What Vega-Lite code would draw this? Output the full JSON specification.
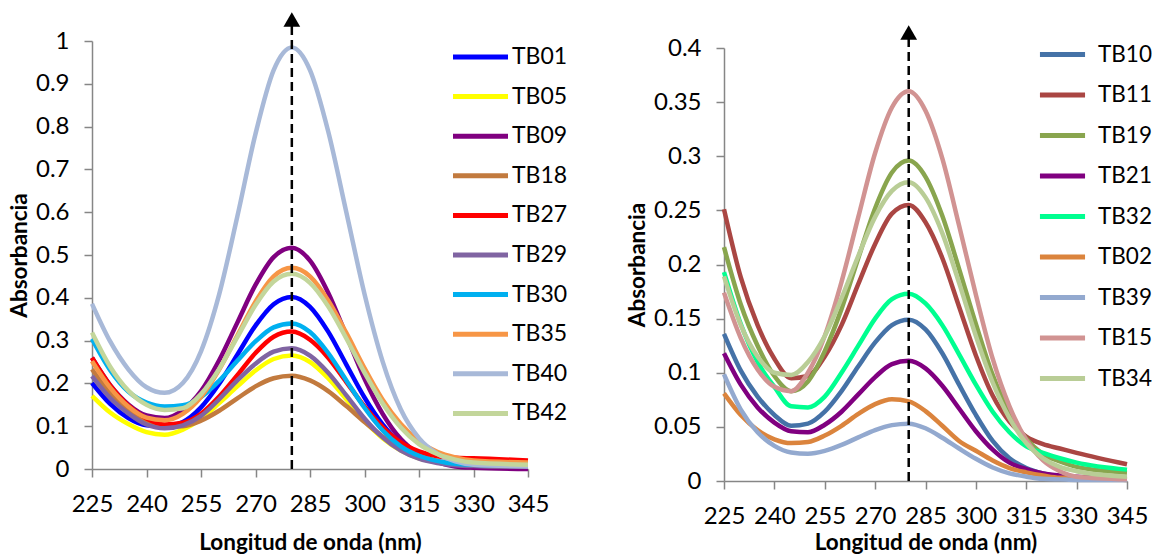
{
"$schema": "https://vega.github.io/schema/vega-lite/v6.json",
"padding": {"left": 8, "top": 12, "right": 0, "bottom": 0},
"config": {
  "view": {"stroke": null},
  "font": "Lato",
  "axis": {"domainColor": "#868686", "domainWidth": 1.5, "tickColor": "#868686", "tickWidth": 1.5, "tickSize": 8, "labelFont": "Lato", "labelFontSize": 24, "labelColor": "#000000", "titleFont": "Lato", "titleFontSize": 22.5, "titleFontWeight": "bold", "titleColor": "#000000", "grid": false, "labelOverlap": false, "labelFlush": false},
  "axisY": {"labelPadding": 15, "titlePadding": 4},
  "axisX": {"labelPadding": 15},
  "legend": {"labelFont": "Lato", "labelFontSize": 23, "labelColor": "#000000", "symbolStrokeWidth": 5, "padding": 0, "symbolSize": 484, "title": null}
},
"datasets": {
  "left": [
{"sample":"TB01","nm":225,"abs":0.201},{"sample":"TB01","nm":230,"abs":0.152},{"sample":"TB01","nm":235,"abs":0.119},{"sample":"TB01","nm":240,"abs":0.102},{"sample":"TB01","nm":245,"abs":0.100},{"sample":"TB01","nm":250,"abs":0.110},{"sample":"TB01","nm":255,"abs":0.144},{"sample":"TB01","nm":260,"abs":0.199},{"sample":"TB01","nm":265,"abs":0.267},{"sample":"TB01","nm":270,"abs":0.335},{"sample":"TB01","nm":275,"abs":0.385},{"sample":"TB01","nm":280,"abs":0.402},{"sample":"TB01","nm":285,"abs":0.379},{"sample":"TB01","nm":290,"abs":0.321},{"sample":"TB01","nm":295,"abs":0.244},{"sample":"TB01","nm":300,"abs":0.167},{"sample":"TB01","nm":305,"abs":0.104},{"sample":"TB01","nm":310,"abs":0.059},{"sample":"TB01","nm":315,"abs":0.032},{"sample":"TB01","nm":320,"abs":0.017},{"sample":"TB01","nm":325,"abs":0.010},{"sample":"TB01","nm":330,"abs":0.007},{"sample":"TB01","nm":345,"abs":0.003},
{"sample":"TB05","nm":225,"abs":0.171},{"sample":"TB05","nm":230,"abs":0.132},{"sample":"TB05","nm":235,"abs":0.105},{"sample":"TB05","nm":240,"abs":0.086},{"sample":"TB05","nm":245,"abs":0.080},{"sample":"TB05","nm":250,"abs":0.092},{"sample":"TB05","nm":255,"abs":0.117},{"sample":"TB05","nm":260,"abs":0.154},{"sample":"TB05","nm":265,"abs":0.193},{"sample":"TB05","nm":270,"abs":0.230},{"sample":"TB05","nm":275,"abs":0.257},{"sample":"TB05","nm":280,"abs":0.265},{"sample":"TB05","nm":285,"abs":0.250},{"sample":"TB05","nm":290,"abs":0.212},{"sample":"TB05","nm":295,"abs":0.163},{"sample":"TB05","nm":300,"abs":0.113},{"sample":"TB05","nm":305,"abs":0.072},{"sample":"TB05","nm":310,"abs":0.043},{"sample":"TB05","nm":315,"abs":0.025},{"sample":"TB05","nm":320,"abs":0.016},{"sample":"TB05","nm":325,"abs":0.011},{"sample":"TB05","nm":330,"abs":0.009},{"sample":"TB05","nm":345,"abs":0.007},
{"sample":"TB09","nm":225,"abs":0.260},{"sample":"TB09","nm":230,"abs":0.196},{"sample":"TB09","nm":235,"abs":0.151},{"sample":"TB09","nm":240,"abs":0.125},{"sample":"TB09","nm":245,"abs":0.119},{"sample":"TB09","nm":250,"abs":0.138},{"sample":"TB09","nm":255,"abs":0.182},{"sample":"TB09","nm":260,"abs":0.254},{"sample":"TB09","nm":265,"abs":0.342},{"sample":"TB09","nm":270,"abs":0.430},{"sample":"TB09","nm":275,"abs":0.495},{"sample":"TB09","nm":280,"abs":0.517},{"sample":"TB09","nm":285,"abs":0.487},{"sample":"TB09","nm":290,"abs":0.412},{"sample":"TB09","nm":295,"abs":0.312},{"sample":"TB09","nm":300,"abs":0.211},{"sample":"TB09","nm":305,"abs":0.129},{"sample":"TB09","nm":310,"abs":0.070},{"sample":"TB09","nm":315,"abs":0.035},{"sample":"TB09","nm":320,"abs":0.016},{"sample":"TB09","nm":325,"abs":0.006},{"sample":"TB09","nm":330,"abs":0.003},{"sample":"TB09","nm":345,"abs":0.000},
{"sample":"TB18","nm":225,"abs":0.233},{"sample":"TB18","nm":230,"abs":0.177},{"sample":"TB18","nm":235,"abs":0.137},{"sample":"TB18","nm":240,"abs":0.112},{"sample":"TB18","nm":245,"abs":0.099},{"sample":"TB18","nm":250,"abs":0.100},{"sample":"TB18","nm":255,"abs":0.113},{"sample":"TB18","nm":260,"abs":0.136},{"sample":"TB18","nm":265,"abs":0.165},{"sample":"TB18","nm":270,"abs":0.193},{"sample":"TB18","nm":275,"abs":0.212},{"sample":"TB18","nm":280,"abs":0.218},{"sample":"TB18","nm":285,"abs":0.207},{"sample":"TB18","nm":290,"abs":0.182},{"sample":"TB18","nm":295,"abs":0.147},{"sample":"TB18","nm":300,"abs":0.110},{"sample":"TB18","nm":305,"abs":0.076},{"sample":"TB18","nm":310,"abs":0.050},{"sample":"TB18","nm":315,"abs":0.031},{"sample":"TB18","nm":320,"abs":0.019},{"sample":"TB18","nm":325,"abs":0.012},{"sample":"TB18","nm":330,"abs":0.008},{"sample":"TB18","nm":345,"abs":0.005},
{"sample":"TB27","nm":225,"abs":0.260},{"sample":"TB27","nm":230,"abs":0.195},{"sample":"TB27","nm":235,"abs":0.148},{"sample":"TB27","nm":240,"abs":0.118},{"sample":"TB27","nm":245,"abs":0.104},{"sample":"TB27","nm":250,"abs":0.108},{"sample":"TB27","nm":255,"abs":0.129},{"sample":"TB27","nm":260,"abs":0.169},{"sample":"TB27","nm":265,"abs":0.219},{"sample":"TB27","nm":270,"abs":0.271},{"sample":"TB27","nm":275,"abs":0.309},{"sample":"TB27","nm":280,"abs":0.321},{"sample":"TB27","nm":285,"abs":0.302},{"sample":"TB27","nm":290,"abs":0.260},{"sample":"TB27","nm":295,"abs":0.203},{"sample":"TB27","nm":300,"abs":0.146},{"sample":"TB27","nm":305,"abs":0.098},{"sample":"TB27","nm":310,"abs":0.062},{"sample":"TB27","nm":315,"abs":0.041},{"sample":"TB27","nm":320,"abs":0.030},{"sample":"TB27","nm":325,"abs":0.026},{"sample":"TB27","nm":330,"abs":0.025},{"sample":"TB27","nm":345,"abs":0.020},
{"sample":"TB29","nm":225,"abs":0.217},{"sample":"TB29","nm":230,"abs":0.166},{"sample":"TB29","nm":235,"abs":0.130},{"sample":"TB29","nm":240,"abs":0.104},{"sample":"TB29","nm":245,"abs":0.095},{"sample":"TB29","nm":250,"abs":0.102},{"sample":"TB29","nm":255,"abs":0.124},{"sample":"TB29","nm":260,"abs":0.163},{"sample":"TB29","nm":265,"abs":0.207},{"sample":"TB29","nm":270,"abs":0.246},{"sample":"TB29","nm":275,"abs":0.274},{"sample":"TB29","nm":280,"abs":0.282},{"sample":"TB29","nm":285,"abs":0.265},{"sample":"TB29","nm":290,"abs":0.225},{"sample":"TB29","nm":295,"abs":0.172},{"sample":"TB29","nm":300,"abs":0.118},{"sample":"TB29","nm":305,"abs":0.074},{"sample":"TB29","nm":310,"abs":0.043},{"sample":"TB29","nm":315,"abs":0.024},{"sample":"TB29","nm":320,"abs":0.014},{"sample":"TB29","nm":325,"abs":0.009},{"sample":"TB29","nm":330,"abs":0.007},{"sample":"TB29","nm":345,"abs":0.005},
{"sample":"TB30","nm":225,"abs":0.304},{"sample":"TB30","nm":230,"abs":0.231},{"sample":"TB30","nm":235,"abs":0.181},{"sample":"TB30","nm":240,"abs":0.155},{"sample":"TB30","nm":245,"abs":0.146},{"sample":"TB30","nm":250,"abs":0.149},{"sample":"TB30","nm":255,"abs":0.168},{"sample":"TB30","nm":260,"abs":0.206},{"sample":"TB30","nm":265,"abs":0.253},{"sample":"TB30","nm":270,"abs":0.298},{"sample":"TB30","nm":275,"abs":0.331},{"sample":"TB30","nm":280,"abs":0.340},{"sample":"TB30","nm":285,"abs":0.320},{"sample":"TB30","nm":290,"abs":0.271},{"sample":"TB30","nm":295,"abs":0.207},{"sample":"TB30","nm":300,"abs":0.143},{"sample":"TB30","nm":305,"abs":0.090},{"sample":"TB30","nm":310,"abs":0.053},{"sample":"TB30","nm":315,"abs":0.031},{"sample":"TB30","nm":320,"abs":0.019},{"sample":"TB30","nm":325,"abs":0.012},{"sample":"TB30","nm":330,"abs":0.010},{"sample":"TB30","nm":345,"abs":0.008},
{"sample":"TB35","nm":225,"abs":0.252},{"sample":"TB35","nm":230,"abs":0.190},{"sample":"TB35","nm":235,"abs":0.146},{"sample":"TB35","nm":240,"abs":0.120},{"sample":"TB35","nm":245,"abs":0.114},{"sample":"TB35","nm":250,"abs":0.129},{"sample":"TB35","nm":255,"abs":0.168},{"sample":"TB35","nm":260,"abs":0.232},{"sample":"TB35","nm":265,"abs":0.312},{"sample":"TB35","nm":270,"abs":0.391},{"sample":"TB35","nm":275,"abs":0.450},{"sample":"TB35","nm":280,"abs":0.470},{"sample":"TB35","nm":285,"abs":0.450},{"sample":"TB35","nm":290,"abs":0.394},{"sample":"TB35","nm":295,"abs":0.318},{"sample":"TB35","nm":300,"abs":0.236},{"sample":"TB35","nm":305,"abs":0.162},{"sample":"TB35","nm":310,"abs":0.105},{"sample":"TB35","nm":315,"abs":0.065},{"sample":"TB35","nm":320,"abs":0.040},{"sample":"TB35","nm":325,"abs":0.027},{"sample":"TB35","nm":330,"abs":0.020},{"sample":"TB35","nm":345,"abs":0.015},
{"sample":"TB40","nm":225,"abs":0.386},{"sample":"TB40","nm":230,"abs":0.298},{"sample":"TB40","nm":235,"abs":0.233},{"sample":"TB40","nm":240,"abs":0.191},{"sample":"TB40","nm":245,"abs":0.178},{"sample":"TB40","nm":250,"abs":0.201},{"sample":"TB40","nm":255,"abs":0.275},{"sample":"TB40","nm":260,"abs":0.408},{"sample":"TB40","nm":265,"abs":0.590},{"sample":"TB40","nm":270,"abs":0.783},{"sample":"TB40","nm":275,"abs":0.932},{"sample":"TB40","nm":280,"abs":0.985},{"sample":"TB40","nm":285,"abs":0.932},{"sample":"TB40","nm":290,"abs":0.789},{"sample":"TB40","nm":295,"abs":0.600},{"sample":"TB40","nm":300,"abs":0.409},{"sample":"TB40","nm":305,"abs":0.251},{"sample":"TB40","nm":310,"abs":0.139},{"sample":"TB40","nm":315,"abs":0.072},{"sample":"TB40","nm":320,"abs":0.036},{"sample":"TB40","nm":325,"abs":0.018},{"sample":"TB40","nm":330,"abs":0.010},{"sample":"TB40","nm":345,"abs":0.006},
{"sample":"TB42","nm":225,"abs":0.319},{"sample":"TB42","nm":230,"abs":0.239},{"sample":"TB42","nm":235,"abs":0.183},{"sample":"TB42","nm":240,"abs":0.150},{"sample":"TB42","nm":245,"abs":0.138},{"sample":"TB42","nm":250,"abs":0.142},{"sample":"TB42","nm":255,"abs":0.175},{"sample":"TB42","nm":260,"abs":0.234},{"sample":"TB42","nm":265,"abs":0.308},{"sample":"TB42","nm":270,"abs":0.383},{"sample":"TB42","nm":275,"abs":0.438},{"sample":"TB42","nm":280,"abs":0.456},{"sample":"TB42","nm":285,"abs":0.435},{"sample":"TB42","nm":290,"abs":0.380},{"sample":"TB42","nm":295,"abs":0.305},{"sample":"TB42","nm":300,"abs":0.225},{"sample":"TB42","nm":305,"abs":0.153},{"sample":"TB42","nm":310,"abs":0.097},{"sample":"TB42","nm":315,"abs":0.058},{"sample":"TB42","nm":320,"abs":0.035},{"sample":"TB42","nm":325,"abs":0.022},{"sample":"TB42","nm":330,"abs":0.015},{"sample":"TB42","nm":345,"abs":0.010}
  ],
  "right": [
{"sample":"TB10","nm":225,"abs":0.136},{"sample":"TB10","nm":230,"abs":0.102},{"sample":"TB10","nm":235,"abs":0.078},{"sample":"TB10","nm":240,"abs":0.061},{"sample":"TB10","nm":245,"abs":0.051},{"sample":"TB10","nm":250,"abs":0.053},{"sample":"TB10","nm":255,"abs":0.064},{"sample":"TB10","nm":260,"abs":0.083},{"sample":"TB10","nm":265,"abs":0.106},{"sample":"TB10","nm":270,"abs":0.128},{"sample":"TB10","nm":275,"abs":0.144},{"sample":"TB10","nm":280,"abs":0.149},{"sample":"TB10","nm":285,"abs":0.140},{"sample":"TB10","nm":290,"abs":0.118},{"sample":"TB10","nm":295,"abs":0.089},{"sample":"TB10","nm":300,"abs":0.061},{"sample":"TB10","nm":305,"abs":0.037},{"sample":"TB10","nm":310,"abs":0.021},{"sample":"TB10","nm":315,"abs":0.012},{"sample":"TB10","nm":320,"abs":0.007},{"sample":"TB10","nm":325,"abs":0.004},{"sample":"TB10","nm":330,"abs":0.003},{"sample":"TB10","nm":345,"abs":0.002},
{"sample":"TB11","nm":225,"abs":0.251},{"sample":"TB11","nm":230,"abs":0.188},{"sample":"TB11","nm":235,"abs":0.144},{"sample":"TB11","nm":240,"abs":0.113},{"sample":"TB11","nm":245,"abs":0.095},{"sample":"TB11","nm":250,"abs":0.097},{"sample":"TB11","nm":255,"abs":0.115},{"sample":"TB11","nm":260,"abs":0.144},{"sample":"TB11","nm":265,"abs":0.182},{"sample":"TB11","nm":270,"abs":0.219},{"sample":"TB11","nm":275,"abs":0.247},{"sample":"TB11","nm":280,"abs":0.255},{"sample":"TB11","nm":285,"abs":0.239},{"sample":"TB11","nm":290,"abs":0.206},{"sample":"TB11","nm":295,"abs":0.161},{"sample":"TB11","nm":300,"abs":0.116},{"sample":"TB11","nm":305,"abs":0.079},{"sample":"TB11","nm":310,"abs":0.055},{"sample":"TB11","nm":315,"abs":0.041},{"sample":"TB11","nm":320,"abs":0.034},{"sample":"TB11","nm":325,"abs":0.030},{"sample":"TB11","nm":330,"abs":0.026},{"sample":"TB11","nm":345,"abs":0.0155},
{"sample":"TB19","nm":225,"abs":0.216},{"sample":"TB19","nm":230,"abs":0.163},{"sample":"TB19","nm":235,"abs":0.125},{"sample":"TB19","nm":240,"abs":0.097},{"sample":"TB19","nm":245,"abs":0.083},{"sample":"TB19","nm":250,"abs":0.092},{"sample":"TB19","nm":255,"abs":0.120},{"sample":"TB19","nm":260,"abs":0.159},{"sample":"TB19","nm":265,"abs":0.206},{"sample":"TB19","nm":270,"abs":0.252},{"sample":"TB19","nm":275,"abs":0.285},{"sample":"TB19","nm":280,"abs":0.296},{"sample":"TB19","nm":285,"abs":0.281},{"sample":"TB19","nm":290,"abs":0.245},{"sample":"TB19","nm":295,"abs":0.196},{"sample":"TB19","nm":300,"abs":0.145},{"sample":"TB19","nm":305,"abs":0.098},{"sample":"TB19","nm":310,"abs":0.063},{"sample":"TB19","nm":315,"abs":0.039},{"sample":"TB19","nm":320,"abs":0.025},{"sample":"TB19","nm":325,"abs":0.018},{"sample":"TB19","nm":330,"abs":0.013},{"sample":"TB19","nm":345,"abs":0.0077},
{"sample":"TB21","nm":225,"abs":0.118},{"sample":"TB21","nm":230,"abs":0.089},{"sample":"TB21","nm":235,"abs":0.068},{"sample":"TB21","nm":240,"abs":0.054},{"sample":"TB21","nm":245,"abs":0.046},{"sample":"TB21","nm":250,"abs":0.045},{"sample":"TB21","nm":255,"abs":0.052},{"sample":"TB21","nm":260,"abs":0.064},{"sample":"TB21","nm":265,"abs":0.080},{"sample":"TB21","nm":270,"abs":0.096},{"sample":"TB21","nm":275,"abs":0.108},{"sample":"TB21","nm":280,"abs":0.111},{"sample":"TB21","nm":285,"abs":0.104},{"sample":"TB21","nm":290,"abs":0.088},{"sample":"TB21","nm":295,"abs":0.067},{"sample":"TB21","nm":300,"abs":0.046},{"sample":"TB21","nm":305,"abs":0.029},{"sample":"TB21","nm":310,"abs":0.017},{"sample":"TB21","nm":315,"abs":0.011},{"sample":"TB21","nm":320,"abs":0.007},{"sample":"TB21","nm":325,"abs":0.005},{"sample":"TB21","nm":330,"abs":0.004},{"sample":"TB21","nm":345,"abs":0.002},
{"sample":"TB32","nm":225,"abs":0.193},{"sample":"TB32","nm":230,"abs":0.145},{"sample":"TB32","nm":235,"abs":0.110},{"sample":"TB32","nm":240,"abs":0.087},{"sample":"TB32","nm":245,"abs":0.069},{"sample":"TB32","nm":250,"abs":0.068},{"sample":"TB32","nm":255,"abs":0.078},{"sample":"TB32","nm":260,"abs":0.100},{"sample":"TB32","nm":265,"abs":0.125},{"sample":"TB32","nm":270,"abs":0.150},{"sample":"TB32","nm":275,"abs":0.168},{"sample":"TB32","nm":280,"abs":0.173},{"sample":"TB32","nm":285,"abs":0.164},{"sample":"TB32","nm":290,"abs":0.144},{"sample":"TB32","nm":295,"abs":0.117},{"sample":"TB32","nm":300,"abs":0.089},{"sample":"TB32","nm":305,"abs":0.064},{"sample":"TB32","nm":310,"abs":0.045},{"sample":"TB32","nm":315,"abs":0.032},{"sample":"TB32","nm":320,"abs":0.026},{"sample":"TB32","nm":325,"abs":0.021},{"sample":"TB32","nm":330,"abs":0.017},{"sample":"TB32","nm":345,"abs":0.0105},
{"sample":"TB02","nm":225,"abs":0.081},{"sample":"TB02","nm":230,"abs":0.061},{"sample":"TB02","nm":235,"abs":0.047},{"sample":"TB02","nm":240,"abs":0.0385},{"sample":"TB02","nm":245,"abs":0.035},{"sample":"TB02","nm":250,"abs":0.036},{"sample":"TB02","nm":255,"abs":0.042},{"sample":"TB02","nm":260,"abs":0.051},{"sample":"TB02","nm":265,"abs":0.062},{"sample":"TB02","nm":270,"abs":0.071},{"sample":"TB02","nm":275,"abs":0.0755},{"sample":"TB02","nm":280,"abs":0.0736},{"sample":"TB02","nm":285,"abs":0.0646},{"sample":"TB02","nm":290,"abs":0.051},{"sample":"TB02","nm":295,"abs":0.037},{"sample":"TB02","nm":300,"abs":0.028},{"sample":"TB02","nm":305,"abs":0.019},{"sample":"TB02","nm":310,"abs":0.012},{"sample":"TB02","nm":315,"abs":0.008},{"sample":"TB02","nm":320,"abs":0.005},{"sample":"TB02","nm":325,"abs":0.003},{"sample":"TB02","nm":330,"abs":0.003},{"sample":"TB02","nm":345,"abs":0.001},
{"sample":"TB39","nm":225,"abs":0.0985},{"sample":"TB39","nm":230,"abs":0.066},{"sample":"TB39","nm":235,"abs":0.045},{"sample":"TB39","nm":240,"abs":0.0325},{"sample":"TB39","nm":245,"abs":0.0264},{"sample":"TB39","nm":250,"abs":0.0252},{"sample":"TB39","nm":255,"abs":0.0278},{"sample":"TB39","nm":260,"abs":0.0333},{"sample":"TB39","nm":265,"abs":0.0403},{"sample":"TB39","nm":270,"abs":0.047},{"sample":"TB39","nm":275,"abs":0.0516},{"sample":"TB39","nm":280,"abs":0.053},{"sample":"TB39","nm":285,"abs":0.0487},{"sample":"TB39","nm":290,"abs":0.040},{"sample":"TB39","nm":295,"abs":0.030},{"sample":"TB39","nm":300,"abs":0.0205},{"sample":"TB39","nm":305,"abs":0.0125},{"sample":"TB39","nm":310,"abs":0.0071},{"sample":"TB39","nm":315,"abs":0.004},{"sample":"TB39","nm":320,"abs":0.002},{"sample":"TB39","nm":325,"abs":0.0015},{"sample":"TB39","nm":330,"abs":0.001},{"sample":"TB39","nm":345,"abs":0.001},
{"sample":"TB15","nm":225,"abs":0.174},{"sample":"TB15","nm":230,"abs":0.132},{"sample":"TB15","nm":235,"abs":0.103},{"sample":"TB15","nm":240,"abs":0.087},{"sample":"TB15","nm":245,"abs":0.083},{"sample":"TB15","nm":250,"abs":0.100},{"sample":"TB15","nm":255,"abs":0.134},{"sample":"TB15","nm":260,"abs":0.184},{"sample":"TB15","nm":265,"abs":0.244},{"sample":"TB15","nm":270,"abs":0.303},{"sample":"TB15","nm":275,"abs":0.345},{"sample":"TB15","nm":280,"abs":0.360},{"sample":"TB15","nm":285,"abs":0.342},{"sample":"TB15","nm":290,"abs":0.298},{"sample":"TB15","nm":295,"abs":0.236},{"sample":"TB15","nm":300,"abs":0.172},{"sample":"TB15","nm":305,"abs":0.113},{"sample":"TB15","nm":310,"abs":0.069},{"sample":"TB15","nm":315,"abs":0.038},{"sample":"TB15","nm":320,"abs":0.019},{"sample":"TB15","nm":325,"abs":0.009},{"sample":"TB15","nm":330,"abs":0.004},{"sample":"TB15","nm":345,"abs":0.0016},
{"sample":"TB34","nm":225,"abs":0.189},{"sample":"TB34","nm":230,"abs":0.144},{"sample":"TB34","nm":235,"abs":0.115},{"sample":"TB34","nm":240,"abs":0.100},{"sample":"TB34","nm":245,"abs":0.098},{"sample":"TB34","nm":250,"abs":0.110},{"sample":"TB34","nm":255,"abs":0.134},{"sample":"TB34","nm":260,"abs":0.169},{"sample":"TB34","nm":265,"abs":0.208},{"sample":"TB34","nm":270,"abs":0.244},{"sample":"TB34","nm":275,"abs":0.268},{"sample":"TB34","nm":280,"abs":0.276},{"sample":"TB34","nm":285,"abs":0.262},{"sample":"TB34","nm":290,"abs":0.229},{"sample":"TB34","nm":295,"abs":0.183},{"sample":"TB34","nm":300,"abs":0.134},{"sample":"TB34","nm":305,"abs":0.091},{"sample":"TB34","nm":310,"abs":0.058},{"sample":"TB34","nm":315,"abs":0.035},{"sample":"TB34","nm":320,"abs":0.021},{"sample":"TB34","nm":325,"abs":0.013},{"sample":"TB34","nm":330,"abs":0.009},{"sample":"TB34","nm":345,"abs":0.004}
  ],
  "markL": [{"nm": 280, "y": 0, "y2": 1.05}],
  "markR": [{"nm": 280, "y": 0, "y2": 0.4143}]
},
"bounds": "flush",
"spacing": 196,
"hconcat": [
  {
    "width": 436,
    "height": 428,
    "layer": [
      {
        "data": {"name": "left"},
        "mark": {"type": "line", "interpolate": "monotone", "strokeWidth": 4.5},
        "encoding": {
          "x": {"field": "nm", "type": "quantitative", "title": "Longitud de onda (nm)", "scale": {"domain": [225, 345], "nice": false, "zero": false}, "axis": {"values": [225, 240, 255, 270, 285, 300, 315, 330, 345], "titlePadding": 15}},
          "y": {"field": "abs", "type": "quantitative", "title": "Absorbancia", "scale": {"domain": [0, 1], "nice": false}, "axis": {"values": [0, 0.1, 0.2, 0.3, 0.4, 0.5, 0.6, 0.7, 0.8, 0.9, 1], "format": "~g"}},
          "color": {"field": "sample", "type": "nominal",
            "scale": {"domain": ["TB01","TB05","TB09","TB18","TB27","TB29","TB30","TB35","TB40","TB42"],
                      "range": ["#0000FF","#FFFF00","#800080","#C27A3E","#FF0000","#8064A2","#00B0F0","#F79646","#A8B9D8","#C3D69B"]},
            "legend": {"orient": "none", "legendX": 375, "legendY": 2.5, "symbolType": "M-2.5,0H2.5", "labelOffset": 18, "rowPadding": 13.6}}
        }
      },
      {
        "data": {"name": "markL"},
        "mark": {"type": "rule", "color": "#000000", "strokeWidth": 2.5, "strokeDash": [9, 5]},
        "encoding": {
          "x": {"field": "nm", "type": "quantitative", "title": "Longitud de onda (nm)"},
          "y": {"field": "y", "type": "quantitative", "title": "Absorbancia"},
          "y2": {"field": "y2"}
        }
      },
      {
        "data": {"name": "markL"},
        "mark": {"type": "point", "shape": "triangle-up", "size": 280, "filled": true, "color": "#000000", "opacity": 1},
        "encoding": {
          "x": {"field": "nm", "type": "quantitative", "title": "Longitud de onda (nm)"},
          "y": {"field": "y2", "type": "quantitative", "title": "Absorbancia"}
        }
      }
    ]
  },
  {
    "bounds": "flush",
    "spacing": 0,
    "vconcat": [
      {"width": 403, "height": 7, "data": {"values": []}, "mark": "point", "encoding": {}},
      {
        "width": 403,
        "height": 433,
        "layer": [
          {
            "data": {"name": "right"},
            "mark": {"type": "line", "interpolate": "monotone", "strokeWidth": 4.5},
            "encoding": {
              "x": {"field": "nm", "type": "quantitative", "title": "Longitud de onda (nm)", "scale": {"domain": [225, 345], "nice": false, "zero": false}, "axis": {"values": [225, 240, 255, 270, 285, 300, 315, 330, 345], "titlePadding": 3}},
              "y": {"field": "abs", "type": "quantitative", "title": "Absorbancia", "scale": {"domain": [0, 0.4], "nice": false}, "axis": {"values": [0, 0.05, 0.1, 0.15, 0.2, 0.25, 0.3, 0.35, 0.4], "format": "~g"}},
              "color": {"field": "sample", "type": "nominal",
                "scale": {"domain": ["TB10","TB11","TB19","TB21","TB32","TB02","TB39","TB15","TB34"],
                          "range": ["#4572A7","#AA4643","#89A54E","#800080","#00FF90","#DB843D","#93A9CF","#D19392","#B9CD96"]},
                "legend": {"orient": "none", "legendX": 325, "legendY": 0, "symbolType": "M-2.05,0H2.05", "labelOffset": 22, "labelFontSize": 22.5, "rowPadding": 15.5}}
            }
          },
          {
            "data": {"name": "markR"},
            "mark": {"type": "rule", "color": "#000000", "strokeWidth": 2.5, "strokeDash": [9, 5]},
            "encoding": {
              "x": {"field": "nm", "type": "quantitative", "title": "Longitud de onda (nm)"},
              "y": {"field": "y", "type": "quantitative", "title": "Absorbancia"},
              "y2": {"field": "y2"}
            }
          },
          {
            "data": {"name": "markR"},
            "mark": {"type": "point", "shape": "triangle-up", "size": 280, "filled": true, "color": "#000000", "opacity": 1},
            "encoding": {
              "x": {"field": "nm", "type": "quantitative", "title": "Longitud de onda (nm)"},
              "y": {"field": "y2", "type": "quantitative", "title": "Absorbancia"}
            }
          }
        ]
      }
    ]
  }
],
"resolve": {"scale": {"color": "independent"}}
}
